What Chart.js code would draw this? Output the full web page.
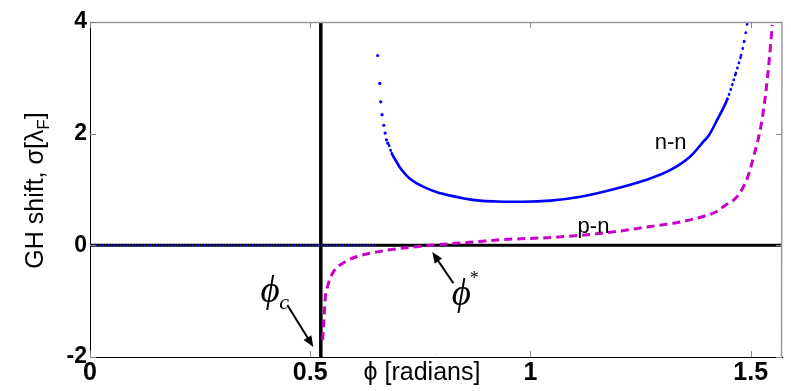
<!DOCTYPE html>
<html><head><meta charset="utf-8">
<script src="https://cdn.jsdelivr.net/npm/chart.js@4/dist/chart.umd.min.js"></script>
<style>html,body{margin:0;padding:0;background:#fff;overflow:hidden}</style>
</head><body>
<canvas id="c" width="791" height="391"></canvas>
<script>
// ---- axis settings ----
const xTicks = [0, 0.5, 1, 1.5];
const yTicks = [-2, 0, 2, 4];
const xRange = [0, 1.571];
const yRange = [-2, 4];

// ---- reference lines ----
const basePhi = [0, 1.571];
const baseSigma = [0, 0];
const critPhi = [0.524, 0.524];
const critSigma = [-2, 4];

// ---- n-n series ----
const nnZeroPhi = [0, 0.65];
const nnZeroSigma = [0, 0];
const nnDotPhi = [0.653, 0.658, 0.660, 0.663, 0.667, 0.670, 0.673, 0.676];
const nnDotSigma = [3.40, 2.90, 2.57, 2.34, 2.15, 2.01, 1.89, 1.83];
const nnPhi = [0.679, 0.685, 0.697, 0.704, 0.712, 0.725, 0.742, 0.765, 0.788, 0.818, 0.849, 0.885, 0.924, 0.955, 0.985, 1.045, 1.114, 1.182, 1.258, 1.318, 1.364, 1.394, 1.405, 1.424, 1.447, 1.466, 1.478, 1.485, 1.4925];
const nnSigma = [1.79, 1.65, 1.48, 1.39, 1.31, 1.20, 1.11, 1.02, 0.95, 0.89, 0.84, 0.80, 0.785, 0.78, 0.78, 0.80, 0.87, 0.99, 1.16, 1.35, 1.60, 1.87, 1.97, 2.25, 2.62, 3.08, 3.40, 3.65, 3.99];

// ---- p-n series ----
const pnPhi = [0.528, 0.530, 0.532, 0.534, 0.538, 0.542, 0.553, 0.576, 0.606, 0.644, 0.689, 0.773, 0.856, 0.932, 1.045, 1.114, 1.197, 1.265, 1.341, 1.401, 1.424, 1.439, 1.470, 1.492, 1.507, 1.523, 1.534, 1.542, 1.549];
const pnSigma = [-1.70, -1.45, -1.22, -0.95, -0.78, -0.66, -0.47, -0.31, -0.20, -0.13, -0.07, 0.00, 0.05, 0.10, 0.14, 0.18, 0.25, 0.33, 0.42, 0.54, 0.61, 0.70, 0.88, 1.20, 1.60, 2.13, 2.72, 3.32, 3.95];

// ---- annotations (data coordinates) ----
const labelNN = {text: 'n-n', x: 1.318, y: 1.83};
const labelPN = {text: 'p-n', x: 1.143, y: 0.33};
const phiCLabel = {x: 0.409, y: -0.84};
const phiCArrow = {x0: 0.448, y0: -1.07, x1: 0.507, y1: -1.82};
const phiStarLabel = {x: 0.843, y: -0.89};
const phiStarArrow = {x0: 0.825, y0: -0.68, x1: 0.777, y1: -0.12};

const toPts = (xs, ys) => xs.map((x, i) => ({x: x, y: ys[i]}));

const decor = {
  id: 'decor',
  afterDraw(chart) {
    const c = chart.ctx, a = chart.chartArea;
    const xs = chart.scales.x, ys = chart.scales.y;
    c.save();
    // top and right frame
    c.strokeStyle = '#999'; c.lineWidth = 1.5;
    c.beginPath();
    c.moveTo(a.left, a.top + 0.5); c.lineTo(a.right, a.top + 0.5);
    c.lineTo(a.right - 0.5, a.bottom);
    c.stroke();
    // inner ticks
    c.lineWidth = 1; c.strokeStyle = '#888';
    c.beginPath();
    xTicks.forEach(v => {
      const px = Math.round(xs.getPixelForValue(v)) + 0.5;
      c.moveTo(px, a.bottom); c.lineTo(px, a.bottom - 6);
      c.moveTo(px, a.top); c.lineTo(px, a.top + 6);
    });
    yTicks.forEach(v => {
      const py = Math.round(ys.getPixelForValue(v)) + 0.5;
      c.moveTo(a.left, py); c.lineTo(a.left + 6, py);
      c.moveTo(a.right, py); c.lineTo(a.right - 6, py);
    });
    c.stroke();

    // curve labels
    c.fillStyle = '#000';
    c.font = '22px "Liberation Sans", Arial, sans-serif';
    c.textAlign = 'center'; c.textBaseline = 'middle';
    [labelNN, labelPN].forEach(l => c.fillText(l.text, xs.getPixelForValue(l.x), ys.getPixelForValue(l.y)));

    // arrows
    const arrow = (ar) => {
      const x0 = xs.getPixelForValue(ar.x0), y0 = ys.getPixelForValue(ar.y0);
      const x1 = xs.getPixelForValue(ar.x1), y1 = ys.getPixelForValue(ar.y1);
      const ang = Math.atan2(y1 - y0, x1 - x0);
      const hl = 11, hw = 4.5;
      c.strokeStyle = '#000'; c.lineWidth = 2;
      c.beginPath(); c.moveTo(x0, y0);
      c.lineTo(x1 - Math.cos(ang) * hl * 0.8, y1 - Math.sin(ang) * hl * 0.8); c.stroke();
      c.beginPath();
      c.moveTo(x1, y1);
      c.lineTo(x1 - Math.cos(ang) * hl + Math.sin(ang) * hw, y1 - Math.sin(ang) * hl - Math.cos(ang) * hw);
      c.lineTo(x1 - Math.cos(ang) * hl - Math.sin(ang) * hw, y1 - Math.sin(ang) * hl + Math.cos(ang) * hw);
      c.closePath(); c.fill();
    };
    arrow(phiCArrow); arrow(phiStarArrow);

    // phi labels
    const serif = '"Liberation Serif", "DejaVu Serif", "Times New Roman", serif';
    let px = xs.getPixelForValue(phiCLabel.x), py = ys.getPixelForValue(phiCLabel.y);
    c.font = 'italic 37px ' + serif;
    c.fillText('\u03D5', px, py);
    c.font = 'italic 22px ' + serif;
    c.fillText('c', px + 14, py + 11);
    px = xs.getPixelForValue(phiStarLabel.x); py = ys.getPixelForValue(phiStarLabel.y);
    c.font = 'italic 37px ' + serif;
    c.fillText('\u03D5', px, py);
    c.font = '18px ' + serif;
    c.fillText('*', px + 13, py - 16);

    // x-axis title
    c.font = '25px "Liberation Sans", Arial, sans-serif';
    c.textAlign = 'center'; c.textBaseline = 'middle';
    c.fillText('\u03D5 [radians]', (a.left + a.right) / 2 - 14, a.bottom + 16);

    // y-axis title with subscript
    c.translate(43, (a.top + a.bottom) / 2 + 1);
    c.rotate(-Math.PI / 2);
    const f1 = '25px "Liberation Sans", Arial, sans-serif';
    const f2 = '17px "Liberation Sans", Arial, sans-serif';
    const p1 = 'GH shift, \u03C3[\u03BB', p2 = 'F', p3 = ']';
    c.font = f1; const w1 = c.measureText(p1).width, w3 = c.measureText(p3).width;
    c.font = f2; const w2 = c.measureText(p2).width;
    let sx = -(w1 + w2 + w3) / 2;
    c.textAlign = 'left'; c.textBaseline = 'alphabetic';
    c.font = f1; c.fillText(p1, sx, 0); sx += w1;
    c.font = f2; c.fillText(p2, sx, 6); sx += w2;
    c.font = f1; c.fillText(p3, sx, 0);
    c.restore();
  }
};

new Chart(document.getElementById('c'), {
  type: 'scatter',
  data: {
    datasets: [
      {label: 'n-n', data: toPts(nnPhi, nnSigma), showLine: true, borderColor: '#0000ff', borderWidth: 2.6,
       pointRadius: 0, cubicInterpolationMode: 'monotone', borderCapStyle: 'round', order: 1,
       segment: {borderDash: (ctx) => {
         const dx = Math.abs(ctx.p1.x - ctx.p0.x), dy = Math.abs(ctx.p1.y - ctx.p0.y);
         const per = 1.4 * Math.sqrt(1 + Math.pow(dy / Math.max(dx, 0.01), 2));
         return per < 3.2 ? undefined : [0.5, per];
       }}},
      {label: 'n-n dots', data: toPts(nnDotPhi, nnDotSigma), showLine: false, pointRadius: 1.6,
       pointBackgroundColor: '#0000ff', pointBorderWidth: 0, order: 1},
      {label: 'p-n', data: toPts(pnPhi, pnSigma), showLine: true, borderColor: '#c800c8', borderWidth: 3,
       borderDash: [8, 5], pointRadius: 0, cubicInterpolationMode: 'monotone', order: 2},
      {label: 'n-n zero', data: toPts(nnZeroPhi, nnZeroSigma), showLine: true, borderColor: '#2020ff', borderWidth: 1.6,
       borderDash: [1.5, 1.5], pointRadius: 0, order: 3},
      {label: 'critical', data: toPts(critPhi, critSigma), showLine: true, borderColor: '#000', borderWidth: 3.5,
       pointRadius: 0, order: 4},
      {label: 'zero', data: toPts(basePhi, baseSigma), showLine: true, borderColor: '#000', borderWidth: 3,
       pointRadius: 0, order: 5}
    ]
  },
  options: {
    responsive: false, animation: false, devicePixelRatio: 1,
    layout: {padding: {top: 22, right: 9, left: 0, bottom: 0}},
    plugins: {legend: {display: false}, tooltip: {enabled: false}},
    scales: {
      x: {type: 'linear', min: xRange[0], max: xRange[1],
          afterBuildTicks: s => { s.ticks = xTicks.map(v => ({value: v})); },
          afterFit: s => { s.height = 34; },
          grid: {display: false, drawTicks: false},
          border: {display: true, color: '#000', width: 1},
          ticks: {padding: 1, color: '#000', font: {family: '"Liberation Sans", Arial, sans-serif', size: 25, weight: 'bold'},
                  maxRotation: 0, autoSkip: false, callback: v => String(v)}},
      y: {type: 'linear', min: yRange[0], max: yRange[1],
          afterBuildTicks: s => { s.ticks = yTicks.map(v => ({value: v})); },
          afterFit: s => { s.width = 90; },
          grid: {display: false, drawTicks: false},
          border: {display: true, color: '#000', width: 1},
          ticks: {padding: 3, color: '#000', font: {family: '"Liberation Sans", Arial, sans-serif', size: 23, weight: 'bold'},
                  autoSkip: false, callback: v => String(v)}}
    }
  },
  plugins: [decor]
});
</script>
</body></html>
